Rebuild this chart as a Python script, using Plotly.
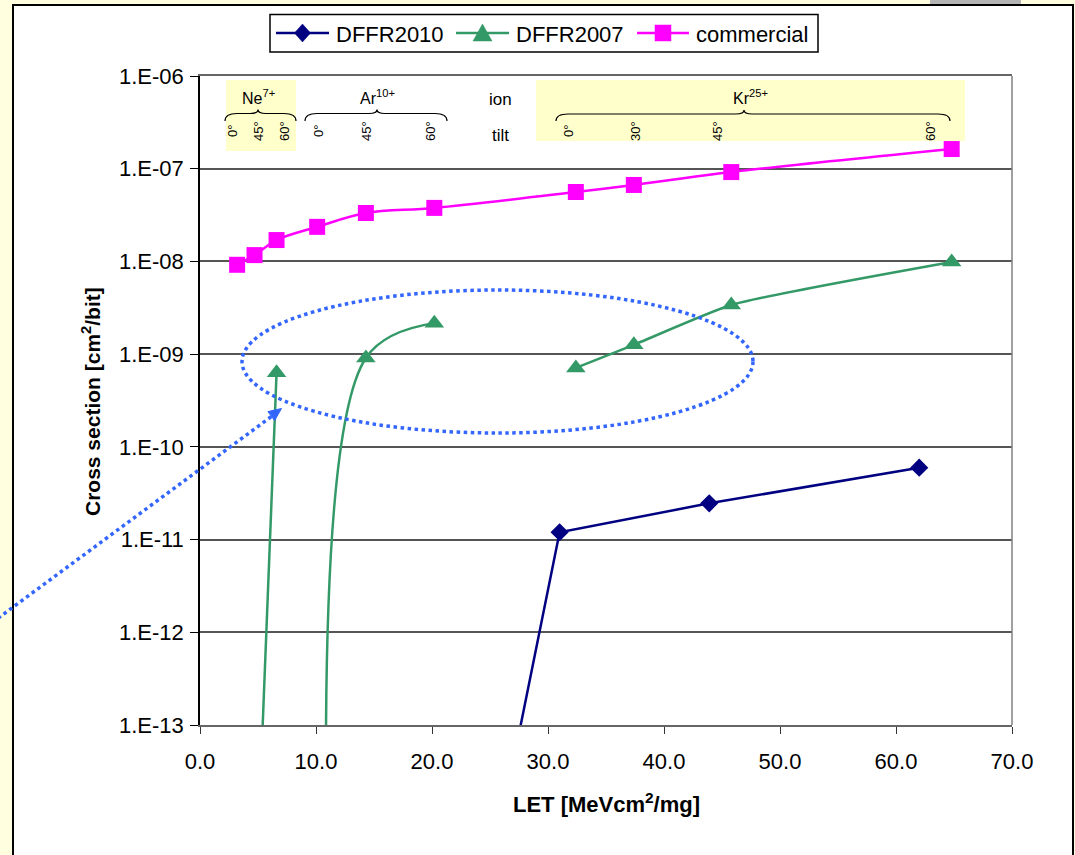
import plotly.graph_objects as go

# ---------------- data ----------------
commercial_let = [3.2, 4.7, 6.6, 10.1, 14.3, 20.2, 32.4, 37.4, 45.8, 64.8]
commercial_xs = [9.2e-9, 1.17e-8, 1.70e-8, 2.36e-8, 3.33e-8, 3.78e-8, 5.61e-8, 6.68e-8, 9.2e-8, 1.63e-7]

dffr2007_ne_let = [4.7, 6.6]
dffr2007_ne_xs = [5.8e-16, 6.3e-10]
dffr2007_ar_let = [11.0, 14.3, 20.2]
dffr2007_ar_xs = [1.0e-15, 9.1e-10, 2.16e-9]
dffr2007_kr_let = [32.4, 37.4, 45.8, 64.8]
dffr2007_kr_xs = [7.1e-10, 1.26e-9, 3.39e-9, 9.86e-9]

dffr2010_let = [20.2, 31.0, 43.9, 62.0]
dffr2010_xs = [2.4e-18, 1.2e-11, 2.46e-11, 5.96e-11]

series_names = ["DFFR2010", "DFFR2007", "commercial"]
series_colors = ["#000080", "#339966", "#FF00FF"]

y_tickvals = [1e-13, 1e-12, 1e-11, 1e-10, 1e-9, 1e-8, 1e-7, 1e-6]
y_ticktext = ["1.E-13", "1.E-12", "1.E-11", "1.E-10", "1.E-09", "1.E-08", "1.E-07", "1.E-06"]
x_tickvals = [0, 10, 20, 30, 40, 50, 60, 70]

ion_labels = ["Ne<sup>7+</sup>", "Ar<sup>10+</sup>", "Kr<sup>25+</sup>"]
tilt_ne = ["0°", "45°", "60°"]
tilt_ar = ["0°", "45°", "60°"]
tilt_kr = ["0°", "30°", "45°", "60°"]

# ---------------- layout geometry ----------------
W, H = 1075, 855
L, R, T, B = 200, 1012, 76, 725
FONT = "Liberation Sans, Arial, sans-serif"


def u(px):
    return (px - L) / (R - L)


def v(py):
    return (B - py) / (B - T)


fig = go.Figure()
fig.add_trace(go.Scatter(
    x=dffr2010_let, y=dffr2010_xs, name=series_names[0], mode="lines+markers",
    line=dict(color=series_colors[0], width=2.5),
    marker=dict(symbol="diamond", size=14, color=series_colors[0]),
))
for xs_, ys_, shp, sm in [(dffr2007_ne_let, dffr2007_ne_xs, "linear", 0),
                          (dffr2007_ar_let, dffr2007_ar_xs, "spline", 1.0),
                          (dffr2007_kr_let, dffr2007_kr_xs, "spline", 0.5)]:
    line = dict(color=series_colors[1], width=2.5, shape=shp)
    if shp == "spline":
        line["smoothing"] = sm
    fig.add_trace(go.Scatter(
        x=xs_, y=ys_, name=series_names[1], legendgroup="d07", mode="lines+markers",
        line=line, marker=dict(symbol="triangle-up", size=17, color=series_colors[1]),
    ))
fig.add_trace(go.Scatter(
    x=commercial_let, y=commercial_xs, name=series_names[2], mode="lines+markers",
    line=dict(color=series_colors[2], width=2.5, shape="spline", smoothing=1.0),
    marker=dict(symbol="square", size=16, color=series_colors[2]),
))

shapes = []
# white chart area with black border
shapes.append(dict(type="rect", xref="paper", yref="paper", layer="below",
                   x0=u(13), x1=u(1073), y0=v(870), y1=v(5),
                   fillcolor="white", line=dict(color="black", width=2)))
# grey bar at the top right
shapes.append(dict(type="rect", xref="paper", yref="paper", layer="below",
                   x0=u(930), x1=u(1021), y0=v(4), y1=v(-3),
                   fillcolor="#B4B4B4", line=dict(width=0)))
# yellow highlight boxes
shapes.append(dict(type="rect", xref="paper", yref="paper", layer="below",
                   x0=u(226), x1=u(296), y0=v(151), y1=v(80),
                   fillcolor="#FFFFCC", line=dict(width=0)))
shapes.append(dict(type="rect", xref="paper", yref="paper", layer="below",
                   x0=u(536), x1=u(965), y0=v(141), y1=v(80),
                   fillcolor="#FFFFCC", line=dict(width=0)))
# right border of plot area
shapes.append(dict(type="line", xref="paper", yref="paper",
                   x0=1, x1=1, y0=0, y1=1, line=dict(color="#808080", width=1.5)))


def brace(x0, x1, xm, yend=121, ybar=113.5, ypeak=109.5):
    r = 12
    pts = [
        f"M{u(x0):.5f},{v(yend):.5f}",
        f"Q{u(x0):.5f},{v(ybar):.5f} {u(x0 + r):.5f},{v(ybar):.5f}",
        f"L{u(xm - 8):.5f},{v(ybar):.5f}",
        f"Q{u(xm):.5f},{v(ybar):.5f} {u(xm):.5f},{v(ypeak):.5f}",
        f"Q{u(xm):.5f},{v(ybar):.5f} {u(xm + 8):.5f},{v(ybar):.5f}",
        f"L{u(x1 - r):.5f},{v(ybar):.5f}",
        f"Q{u(x1):.5f},{v(ybar):.5f} {u(x1):.5f},{v(yend):.5f}",
    ]
    return dict(type="path", xref="paper", yref="paper", path=" ".join(pts),
                line=dict(color="black", width=1.2))


shapes.append(brace(225, 296, 258))
shapes.append(brace(305, 447, 377))
shapes.append(brace(556, 950, 744, ybar=114, ypeak=110))

# dotted blue ellipse
shapes.append(dict(type="circle", xref="paper", yref="paper",
                   x0=u(242), x1=u(753), y0=v(433), y1=v(290),
                   line=dict(color="#3366FF", width=3.5, dash="dot")))
# dotted arrow from the left edge
shapes.append(dict(type="line", xref="paper", yref="paper",
                   x0=u(-2), y0=v(618.2), x1=u(272), y1=v(416.1),
                   line=dict(color="#3366FF", width=3.5, dash="dot")))
shapes.append(dict(type="path", xref="paper", yref="paper",
                   path=f"M{u(281.5):.5f},{v(408.5):.5f} L{u(274.6):.5f},{v(420.6):.5f} "
                        f"L{u(267.9):.5f},{v(411.6):.5f} Z",
                   fillcolor="#3366FF", line=dict(color="#3366FF", width=1)))

annotations = []


def txt(text, x, y, size, angle=0, bold=False, anchor="center"):
    annotations.append(dict(
        text=f"<b>{text}</b>" if bold else text, x=u(x), y=v(y),
        xref="paper", yref="paper", showarrow=False, textangle=angle,
        xanchor=anchor, yanchor="middle",
        font=dict(family=FONT, size=size, color="black")))


# ---- legend (boxed, drawn in the layout) ----
LEG_Y = 33
shapes.append(dict(type="rect", xref="paper", yref="paper",
                   x0=u(270), x1=u(818), y0=v(52), y1=v(14.5),
                   fillcolor="white", line=dict(color="black", width=1.5)))
leg_line_x = [(276, 329), (456, 509), (637, 689)]
leg_text_x = [334, 514, 694]
for i, ((a, b), tx) in enumerate(zip(leg_line_x, leg_text_x)):
    c = series_colors[i]
    shapes.append(dict(type="line", xref="paper", yref="paper",
                       x0=u(a), x1=u(b), y0=v(LEG_Y), y1=v(LEG_Y),
                       line=dict(color=c, width=2.5)))
    m = (a + b) / 2
    if i == 0:
        p = (f"M{u(m):.5f},{v(LEG_Y - 9):.5f} L{u(m + 8):.5f},{v(LEG_Y):.5f} "
             f"L{u(m):.5f},{v(LEG_Y + 9):.5f} L{u(m - 8):.5f},{v(LEG_Y):.5f} Z")
    elif i == 1:
        p = (f"M{u(m):.5f},{v(LEG_Y - 9):.5f} L{u(m + 9.5):.5f},{v(LEG_Y + 8):.5f} "
             f"L{u(m - 9.5):.5f},{v(LEG_Y + 8):.5f} Z")
    else:
        p = (f"M{u(m - 8):.5f},{v(LEG_Y - 8):.5f} L{u(m + 8):.5f},{v(LEG_Y - 8):.5f} "
             f"L{u(m + 8):.5f},{v(LEG_Y + 8):.5f} L{u(m - 8):.5f},{v(LEG_Y + 8):.5f} Z")
    shapes.append(dict(type="path", xref="paper", yref="paper", path=p,
                       fillcolor=c, line=dict(color=c, width=0.5)))
    txt(series_names[i], tx, LEG_Y + 1, 22, anchor="left")

txt(ion_labels[0], 258, 97, 16)
txt(ion_labels[1], 377, 97, 16)
txt(ion_labels[2], 750, 97, 16)
txt("ion", 500, 100, 17)
txt("tilt", 500, 135, 17)
for t, xp in zip(tilt_ne, [232, 258, 284]):
    txt(t, xp, 131, 13, angle=-90)
for t, xp in zip(tilt_ar, [318, 366, 430]):
    txt(t, xp, 131, 13, angle=-90)
for t, xp in zip(tilt_kr, [568, 635, 717, 930]):
    txt(t, xp, 131, 13, angle=-90)

txt("LET [MeVcm<sup>2</sup>/mg]", 606, 803, 22, bold=True)
txt("Cross section [cm<sup>2</sup>/bit]", 91, 402, 21, angle=-90, bold=True)

fig.update_layout(
    width=W, height=H,
    margin=dict(l=L, r=W - R, t=T, b=H - B, pad=0),
    paper_bgcolor="#FFFFE0",
    plot_bgcolor="white",
    font=dict(family=FONT, size=22, color="black"),
    showlegend=False,
    shapes=shapes,
    annotations=annotations,
)
fig.update_xaxes(range=[0, 70], tickvals=x_tickvals, tickformat=".1f",
                 showgrid=False, zeroline=False, showline=True, mirror=True,
                 linecolor="#666666", linewidth=1.5,
                 ticks="outside", ticklen=7, tickcolor="#333333", tickwidth=1.2,
                 ticklabelstandoff=9, tickfont=dict(family=FONT, size=22))
fig.update_yaxes(type="log", range=[-13, -6], tickvals=y_tickvals, ticktext=y_ticktext,
                 showgrid=True, gridcolor="#555555", gridwidth=1.5, zeroline=False,
                 showline=True, linecolor="black", linewidth=1.5,
                 ticks="outside", ticklen=8, tickcolor="black", tickwidth=1.2,
                 ticklabelstandoff=2, tickfont=dict(family=FONT, size=22))

fig.write_html("out.html",
               config={"displayModeBar": False},
               post_script="document.body.style.margin='0px';"
                           "document.body.style.padding='0px';"
                           "document.documentElement.style.overflow='hidden';")
